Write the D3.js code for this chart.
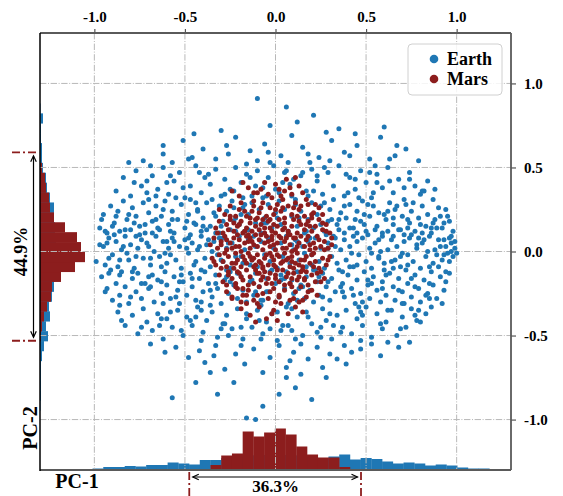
<!DOCTYPE html>
<html><head><meta charset="utf-8">
<script src="https://cdn.jsdelivr.net/npm/d3@7"></script>
<style>body{margin:0;background:#fff}svg{display:block}</style>
</head><body><svg id="c" width="563" height="496"></svg>
<script>
const xTicks=[-1.0,-0.5,0.0,0.5,1.0];
const yTicks=[1.0,0.5,0.0,-0.5,-1.0];
const seriesNames=["Earth","Mars"];
const axisLabels=["PC-1","PC-2"];

const earthPoints=[
[-0.10,0.91],[0.12,0.77],[-0.03,0.75],[-0.30,0.72],[0.60,0.74],[0.21,0.81],[0.06,0.86],[-0.45,0.70],[0.35,0.73],
[-0.73,0.54],[-0.62,0.58],[-0.51,0.66],[-0.40,0.61],[-0.33,0.55],[-0.22,0.68],[-0.14,0.60],[-0.06,0.64],[0.03,0.57],[0.09,0.69],[0.15,0.62],[0.24,0.56],[0.31,0.66],[0.38,0.59],[0.45,0.63],[0.52,0.55],[0.58,0.68],[0.66,0.57],[0.72,0.61],[-0.81,0.53],[-0.57,0.53],[-0.27,0.63],[0.19,0.53],[0.44,0.70],[-0.10,0.54],[0.28,0.71],[0.79,0.54],[-0.46,0.56],
[-0.88,0.36],[-0.84,0.44],[-0.80,0.33],[-0.77,0.48],[-0.74,0.39],[-0.70,0.31],[-0.68,0.45],[-0.65,0.37],[-0.62,0.50],[-0.59,0.34],[-0.56,0.42],[-0.53,0.47],[-0.50,0.32],[-0.47,0.39],[-0.44,0.51],[-0.41,0.35],[-0.39,0.44],[-0.36,0.40],[-0.33,0.49],[-0.30,0.33],[-0.28,0.43],[-0.25,0.37],[-0.22,0.50],[-0.19,0.41],[-0.16,0.46],[-0.13,0.33],[-0.10,0.48],[-0.07,0.38],[-0.04,0.44],[-0.01,0.51],[0.02,0.35],[0.05,0.47],[0.08,0.40],[0.11,0.31],[0.14,0.45],[0.17,0.36],[0.20,0.49],[0.23,0.42],[0.26,0.34],[0.29,0.47],[0.32,0.39],[0.35,0.51],[0.38,0.33],[0.41,0.44],[0.44,0.37],[0.47,0.48],[0.50,0.41],[0.53,0.32],[0.56,0.46],[0.59,0.38],[0.62,0.50],[0.65,0.35],[0.68,0.43],[0.71,0.31],[0.74,0.47],[0.77,0.39],[0.80,0.34],[0.84,0.42],[0.88,0.37],[-0.60,0.41],[-0.42,0.47],[-0.18,0.32],[0.10,0.43],[0.27,0.50],[0.46,0.32],[0.63,0.42],[-0.71,0.42],[0.39,0.46],[-0.05,0.33],[0.55,0.51],
[-0.97,0.14],[-0.95,0.22],[-0.93,0.11],[-0.91,0.27],[-0.89,0.17],[-0.87,0.24],[-0.86,0.12],[-0.84,0.30],[-0.82,0.19],[-0.80,0.13],[-0.79,0.26],[-0.77,0.21],[-0.75,0.15],[-0.73,0.29],[-0.72,0.11],[-0.70,0.23],[-0.68,0.18],[-0.66,0.27],[-0.64,0.13],[-0.63,0.21],[-0.61,0.30],[-0.59,0.16],[-0.57,0.24],[-0.56,0.11],[-0.54,0.19],[-0.52,0.28],[-0.50,0.14],[-0.48,0.22],[-0.47,0.31],[-0.45,0.17],[-0.43,0.25],[-0.41,0.12],[-0.40,0.20],[-0.38,0.29],[-0.36,0.15],[-0.34,0.23],[-0.33,0.11],[-0.31,0.27],[-0.29,0.18],[-0.27,0.24],[-0.25,0.13],[-0.24,0.30],[-0.22,0.20],[-0.20,0.16],[-0.18,0.26],[-0.17,0.12],[-0.15,0.22],[-0.13,0.29],[-0.11,0.17],[-0.09,0.25],[-0.08,0.11],[-0.06,0.20],[-0.04,0.28],[-0.02,0.14],[0.00,0.23],[0.02,0.30],[0.03,0.16],[0.05,0.25],[0.07,0.12],[0.09,0.21],[0.11,0.28],[0.12,0.15],[0.14,0.24],[0.16,0.11],[0.18,0.19],[0.20,0.29],[0.21,0.14],[0.23,0.22],[0.25,0.27],[0.27,0.12],[0.29,0.18],[0.30,0.25],[0.32,0.31],[0.34,0.16],[0.36,0.23],[0.38,0.11],[0.39,0.20],[0.41,0.28],[0.43,0.14],[0.45,0.24],[0.47,0.18],[0.48,0.30],[0.50,0.12],[0.52,0.21],[0.54,0.27],[0.56,0.15],[0.57,0.23],[0.59,0.11],[0.61,0.19],[0.63,0.29],[0.65,0.16],[0.66,0.25],[0.68,0.13],[0.70,0.21],[0.72,0.28],[0.74,0.17],[0.75,0.24],[0.77,0.12],[0.79,0.20],[0.81,0.27],[0.83,0.15],[0.84,0.22],[0.86,0.11],[0.88,0.19],[0.90,0.26],[0.92,0.14],[0.94,0.25],[0.96,0.18],[0.98,0.12],[-0.90,0.15],[-0.62,0.25],[-0.44,0.16],[0.13,0.20],[0.44,0.19],[0.62,0.24],[0.80,0.16],[-0.23,0.26],[0.35,0.13],[0.71,0.10],
[-0.99,-0.06],[-0.97,0.04],[-0.95,0.03],[-0.94,-0.08],[-0.92,0.08],[-0.90,-0.02],[-0.88,0.06],[-0.87,-0.09],[-0.85,0.01],[-0.83,0.09],[-0.81,-0.05],[-0.80,0.04],[-0.78,-0.10],[-0.76,0.02],[-0.74,0.07],[-0.73,-0.04],[-0.71,0.05],[-0.69,-0.08],[-0.67,0.00],[-0.66,0.09],[-0.64,-0.03],[-0.62,0.06],[-0.60,-0.07],[-0.59,0.02],[-0.57,0.08],[-0.55,-0.05],[-0.53,0.03],[-0.52,-0.10],[-0.50,0.07],[-0.48,-0.01],[-0.46,0.05],[-0.45,-0.08],[-0.43,0.01],[-0.41,0.09],[-0.39,-0.04],[-0.38,0.04],[-0.36,-0.09],[-0.34,0.06],[-0.32,-0.02],[-0.31,0.08],[-0.29,-0.06],[-0.27,0.02],[-0.25,-0.10],[-0.24,0.05],[-0.22,-0.03],[-0.20,0.09],[-0.18,-0.07],[-0.17,0.01],[-0.15,0.07],[-0.13,-0.05],[-0.11,0.03],[-0.10,-0.09],[-0.08,0.06],[-0.06,-0.02],[-0.04,0.08],[-0.03,-0.06],[-0.01,0.02],[0.01,-0.10],[0.03,0.05],[0.04,-0.03],[0.06,0.09],[0.08,-0.07],[0.10,0.01],[0.11,0.07],[0.13,-0.05],[0.15,0.03],[0.17,-0.09],[0.18,0.06],[0.20,-0.02],[0.22,0.08],[0.24,-0.06],[0.25,0.02],[0.27,-0.10],[0.29,0.05],[0.31,-0.03],[0.32,0.09],[0.34,-0.07],[0.36,0.01],[0.38,0.07],[0.39,-0.05],[0.41,0.03],[0.43,-0.09],[0.45,0.06],[0.46,-0.02],[0.48,0.08],[0.50,-0.06],[0.52,0.02],[0.53,-0.10],[0.55,0.05],[0.57,-0.03],[0.59,0.09],[0.60,-0.07],[0.62,0.01],[0.64,0.07],[0.66,-0.05],[0.67,0.03],[0.69,-0.09],[0.71,0.06],[0.73,-0.02],[0.74,0.08],[0.76,-0.06],[0.78,0.02],[0.80,-0.10],[0.81,0.05],[0.83,-0.03],[0.85,0.09],[0.87,-0.07],[0.88,0.01],[0.90,0.07],[0.92,-0.05],[0.94,0.03],[0.95,-0.01],[0.97,0.05],[0.98,-0.03],[0.99,0.02],[1.00,-0.01],[0.97,0.00],[0.99,0.06],[-0.82,-0.01],[-0.58,-0.02],[-0.35,0.00],[0.16,-0.01],[0.42,-0.01],[0.58,0.00],[0.70,-0.01],[0.84,0.00],[0.93,0.07],[-0.70,0.03],[-0.47,0.10],[0.28,0.10],[0.51,0.10],[0.65,-0.10],[-0.89,0.10],[0.75,0.10],
[-0.96,-0.15],[-0.94,-0.24],[-0.92,-0.13],[-0.90,-0.29],[-0.88,-0.19],[-0.86,-0.26],[-0.85,-0.12],[-0.83,-0.21],[-0.81,-0.31],[-0.79,-0.16],[-0.77,-0.24],[-0.76,-0.13],[-0.74,-0.28],[-0.72,-0.19],[-0.70,-0.22],[-0.68,-0.14],[-0.67,-0.30],[-0.65,-0.17],[-0.63,-0.25],[-0.61,-0.12],[-0.60,-0.20],[-0.58,-0.28],[-0.56,-0.15],[-0.54,-0.23],[-0.53,-0.31],[-0.51,-0.18],[-0.49,-0.26],[-0.47,-0.13],[-0.46,-0.21],[-0.44,-0.29],[-0.42,-0.16],[-0.40,-0.24],[-0.39,-0.12],[-0.37,-0.19],[-0.35,-0.27],[-0.33,-0.14],[-0.32,-0.22],[-0.30,-0.31],[-0.28,-0.17],[-0.26,-0.25],[-0.25,-0.12],[-0.23,-0.20],[-0.21,-0.28],[-0.19,-0.15],[-0.18,-0.23],[-0.16,-0.30],[-0.14,-0.18],[-0.12,-0.26],[-0.11,-0.13],[-0.09,-0.21],[-0.07,-0.29],[-0.05,-0.16],[-0.04,-0.24],[-0.02,-0.11],[0.00,-0.19],[0.02,-0.27],[0.03,-0.14],[0.05,-0.22],[0.07,-0.31],[0.09,-0.17],[0.10,-0.25],[0.12,-0.12],[0.14,-0.20],[0.16,-0.28],[0.17,-0.15],[0.19,-0.23],[0.21,-0.30],[0.23,-0.18],[0.24,-0.26],[0.26,-0.13],[0.28,-0.21],[0.30,-0.29],[0.31,-0.16],[0.33,-0.24],[0.35,-0.11],[0.37,-0.19],[0.38,-0.27],[0.40,-0.14],[0.42,-0.22],[0.44,-0.31],[0.45,-0.17],[0.47,-0.25],[0.49,-0.12],[0.51,-0.20],[0.52,-0.28],[0.54,-0.15],[0.56,-0.23],[0.58,-0.30],[0.59,-0.18],[0.61,-0.26],[0.63,-0.13],[0.65,-0.21],[0.66,-0.29],[0.68,-0.16],[0.70,-0.24],[0.72,-0.11],[0.73,-0.19],[0.75,-0.27],[0.77,-0.14],[0.79,-0.22],[0.80,-0.30],[0.82,-0.17],[0.84,-0.25],[0.86,-0.12],[0.87,-0.20],[0.89,-0.28],[0.91,-0.15],[0.93,-0.23],[0.94,-0.18],[0.96,-0.13],[-0.62,-0.31],[-0.41,-0.30],[-0.08,-0.32],[0.22,-0.11],[0.48,-0.30],[0.71,-0.31],[-0.86,-0.32],[0.06,-0.12],[-0.27,-0.11],[0.60,-0.11],
[-0.87,-0.36],[-0.83,-0.44],[-0.79,-0.38],[-0.76,-0.49],[-0.73,-0.34],[-0.71,-0.42],[-0.68,-0.47],[-0.65,-0.37],[-0.62,-0.52],[-0.60,-0.40],[-0.57,-0.45],[-0.54,-0.35],[-0.51,-0.50],[-0.49,-0.39],[-0.46,-0.44],[-0.43,-0.33],[-0.40,-0.48],[-0.38,-0.41],[-0.35,-0.36],[-0.32,-0.51],[-0.29,-0.43],[-0.27,-0.38],[-0.24,-0.46],[-0.21,-0.34],[-0.18,-0.52],[-0.16,-0.40],[-0.13,-0.45],[-0.10,-0.35],[-0.07,-0.49],[-0.05,-0.42],[-0.02,-0.37],[0.01,-0.53],[0.04,-0.44],[0.06,-0.33],[0.09,-0.47],[0.12,-0.39],[0.15,-0.50],[0.17,-0.36],[0.20,-0.43],[0.23,-0.48],[0.26,-0.34],[0.28,-0.41],[0.31,-0.52],[0.34,-0.38],[0.37,-0.45],[0.39,-0.35],[0.42,-0.49],[0.45,-0.40],[0.48,-0.44],[0.50,-0.33],[0.53,-0.51],[0.56,-0.37],[0.59,-0.46],[0.61,-0.42],[0.64,-0.35],[0.67,-0.50],[0.70,-0.39],[0.72,-0.45],[0.75,-0.34],[0.78,-0.41],[0.80,-0.42],[0.83,-0.37],[0.86,-0.33],[-0.64,-0.44],[-0.26,-0.50],[0.11,-0.52],[0.47,-0.36],[-0.44,-0.39],[0.25,-0.45],
[-0.69,-0.55],[-0.61,-0.60],[-0.55,-0.57],[-0.48,-0.63],[-0.42,-0.59],[-0.39,-0.66],[-0.33,-0.56],[-0.28,-0.70],[-0.22,-0.61],[-0.17,-0.67],[-0.12,-0.58],[-0.07,-0.72],[-0.03,-0.63],[0.02,-0.56],[0.06,-0.69],[0.10,-0.60],[0.14,-0.73],[0.18,-0.64],[0.23,-0.57],[0.26,-0.69],[0.30,-0.61],[0.34,-0.64],[0.38,-0.56],[0.42,-0.60],[0.47,-0.58],[0.53,-0.55],[0.58,-0.62],[0.62,-0.54],[0.68,-0.57],[0.74,-0.54],
[-0.57,-0.87],[-0.36,-0.72],[-0.32,-0.85],[-0.23,-0.78],[-0.16,-0.99],[-0.11,-1.00],[-0.07,-0.92],[0.02,-0.85],[0.06,-0.75],[0.11,-0.81],[0.28,-0.75],[0.20,-0.88],[-0.44,-0.78],
[-0.93,0.05],[-0.86,-0.14],[-0.81,0.22],[-0.77,-0.03],[-0.72,0.16],[-0.69,-0.21],[-0.66,0.33],[-0.63,-0.09],[-0.58,0.12],[-0.55,-0.27],[-0.51,0.38],[-0.49,0.02],[-0.46,-0.16],[-0.43,0.24],[-0.41,-0.35],[-0.37,0.07],[-0.35,0.31],[-0.33,-0.19],[-0.30,0.15],[-0.28,-0.43],[-0.26,0.05],[-0.23,0.36],[-0.21,-0.13],[-0.19,0.22],[-0.16,-0.37],[-0.14,0.44],[-0.12,0.09],[-0.09,-0.41],[-0.07,0.32],[-0.05,-0.24],[-0.03,0.53],[0.01,-0.36],[0.04,0.41],[0.07,-0.44],[0.09,0.33],[0.12,-0.29],[0.15,0.47],[0.18,-0.39],[0.21,0.36],[0.24,-0.15],[0.27,0.29],[0.30,-0.37],[0.33,0.08],[0.36,-0.21],[0.38,0.27],[0.41,-0.09],[0.44,0.43],[0.46,-0.33],[0.49,0.16],[0.51,-0.17],[0.54,0.35],[0.57,-0.04],[0.60,0.22],[0.62,-0.35],[0.65,0.09],[0.68,-0.23],[0.71,0.38],[0.73,-0.08],[0.76,0.29],[0.79,-0.35],[0.82,0.07],[0.85,-0.19],[0.87,0.31],[0.90,-0.09],[0.93,0.17],[0.96,-0.06],
[0.97,0.09],[0.94,-0.12],[0.91,0.21],[0.89,-0.02],[0.86,0.14],[0.83,-0.26],[0.81,0.36],[0.78,0.04],[0.75,-0.16],[0.73,0.19],[0.70,-0.31],[0.67,0.27],[0.64,-0.06],[0.62,0.12],[0.59,-0.22],[0.56,0.41],[0.53,-0.01],[0.51,0.28],[0.48,-0.38],[0.45,0.11],[0.43,-0.26],[0.40,0.35],[0.37,-0.12],[0.35,0.19],[0.32,-0.44],[0.29,0.02],[0.26,-0.27],[0.23,0.45],[0.20,-0.08],[0.18,0.33],[0.15,-0.21],[0.12,0.06],[0.09,-0.34],[0.06,0.48],[0.03,-0.17],[0.00,0.37],[-0.03,-0.46],[-0.05,0.17],[-0.08,-0.29],[-0.11,0.39],[-0.14,-0.08],[-0.17,0.28],[-0.19,-0.45],[-0.22,0.12],[-0.25,-0.18],[-0.28,0.34],[-0.30,-0.05],[-0.33,0.21],[-0.36,-0.32],[-0.38,0.13],[-0.41,-0.11],[-0.44,0.29],[-0.47,-0.41],[-0.49,0.18],[-0.52,-0.14],[-0.55,0.32],[-0.58,-0.36],[-0.60,0.06],[-0.63,-0.18],[-0.66,0.19],[-0.69,-0.04],[-0.71,0.35],[-0.74,-0.19],[-0.77,0.09],[-0.80,-0.27],[-0.83,0.13],[-0.86,-0.05],[-0.88,0.21],[-0.91,-0.11],[-0.94,0.12],
[-0.84,0.03],[-0.79,-0.12],[-0.75,0.10],[-0.70,-0.15],[-0.65,0.14],[-0.61,-0.01],[-0.57,0.19],[-0.53,-0.18],[-0.48,0.08],[-0.44,-0.06],[-0.40,0.15],[-0.36,-0.23],[-0.31,0.11],[-0.27,-0.15],[-0.23,0.18],[-0.19,-0.03],[-0.15,0.13],[-0.11,-0.24],[-0.07,0.17],[-0.03,-0.12],[0.01,0.20],[0.05,-0.16],[0.09,0.04],[0.13,-0.22],[0.17,0.12],[0.21,-0.11],[0.25,0.16],[0.29,-0.18],[0.33,0.03],[0.37,-0.24],[0.41,0.14],[0.45,-0.08],[0.49,0.22],[0.53,-0.19],[0.57,0.07],[0.61,-0.14],[0.65,0.20],[0.69,-0.03],[0.73,0.14],[0.77,-0.21],[0.81,0.11],[0.85,-0.09],[0.89,0.14],[0.93,-0.02],[0.96,0.08],[0.91,0.03],[0.87,0.17],[0.79,0.08],[0.69,0.13],[0.55,0.13],[0.43,0.09],[0.31,0.19],[0.19,0.08],[-0.13,-0.17],[-0.29,0.08],[-0.42,0.03],[-0.56,0.06],[-0.68,0.11],[-0.78,0.17],[-0.92,-0.04],
[-0.78,0.41],[-0.69,0.51],[-0.58,0.45],[-0.48,0.55],[-0.37,0.46],[-0.26,0.58],[-0.16,0.52],[-0.04,0.59],[0.07,0.53],[0.18,0.58],[0.30,0.54],[0.41,0.57],[0.52,0.47],[0.63,0.55],[0.74,0.43],[0.82,0.36],[-0.85,-0.41],[-0.74,-0.45],[-0.63,-0.40],[-0.52,-0.47],[-0.41,-0.53],[-0.30,-0.46],[-0.19,-0.56],[-0.08,-0.52],[0.03,-0.47],[0.14,-0.55],[0.25,-0.51],[0.36,-0.48],[0.47,-0.53],[0.58,-0.43],[0.69,-0.46],[0.77,-0.38],[0.85,-0.28],[-0.93,-0.22],[-0.96,0.19],[0.95,0.21],[0.92,-0.31],[-0.62,0.63],[0.67,0.63],[-0.34,-0.62],[0.39,-0.67],[0.08,-0.65]
];

const marsPoints=[
[-0.20,0.33],[-0.15,0.38],[-0.10,0.35],[-0.06,0.41],[-0.02,0.32],[0.02,0.37],[0.06,0.43],[0.09,0.34],[0.13,0.39],[0.17,0.31],[-0.24,0.36],[-0.12,0.30],[0.00,0.40],[0.04,0.31],[-0.08,0.37],[0.11,0.44],[-0.18,0.41],[0.15,0.35],[-0.04,0.34],[0.08,0.38],
[-0.28,0.22],[-0.25,0.27],[-0.22,0.21],[-0.19,0.29],[-0.17,0.24],[-0.14,0.20],[-0.12,0.27],[-0.09,0.23],[-0.07,0.29],[-0.05,0.21],[-0.03,0.26],[-0.01,0.22],[0.01,0.28],[0.03,0.24],[0.05,0.20],[0.07,0.27],[0.09,0.22],[0.11,0.29],[0.13,0.25],[0.16,0.21],[0.18,0.28],[0.21,0.23],[0.24,0.26],[-0.31,0.25],[-0.20,0.25],[-0.10,0.20],[0.00,0.25],[0.10,0.26],[0.20,0.20],[0.26,0.22],
[-0.33,0.14],[-0.31,0.18],[-0.29,0.11],[-0.27,0.16],[-0.25,0.19],[-0.23,0.12],[-0.21,0.15],[-0.19,0.18],[-0.18,0.11],[-0.16,0.14],[-0.14,0.17],[-0.13,0.12],[-0.11,0.19],[-0.09,0.13],[-0.08,0.16],[-0.06,0.11],[-0.04,0.18],[-0.03,0.14],[-0.01,0.16],[0.00,0.11],[0.02,0.19],[0.04,0.13],[0.05,0.17],[0.07,0.12],[0.09,0.15],[0.10,0.19],[0.12,0.11],[0.14,0.16],[0.16,0.13],[0.18,0.18],[0.20,0.12],[0.22,0.15],[0.24,0.19],[0.26,0.13],[0.28,0.16],[0.30,0.11],[-0.26,0.13],[-0.15,0.10],[-0.07,0.19],[0.01,0.15],[0.08,0.10],[0.13,0.18],[-0.20,0.16],[-0.02,0.12],[0.19,0.15],
[-0.36,0.04],[-0.34,0.08],[-0.32,0.02],[-0.30,0.06],[-0.28,0.09],[-0.27,0.01],[-0.25,0.05],[-0.23,0.08],[-0.22,0.03],[-0.20,0.07],[-0.19,0.00],[-0.17,0.05],[-0.16,0.09],[-0.14,0.02],[-0.13,0.06],[-0.11,0.10],[-0.10,0.03],[-0.09,0.07],[-0.07,0.01],[-0.06,0.05],[-0.05,0.09],[-0.03,0.03],[-0.02,0.07],[0.00,0.01],[0.01,0.05],[0.02,0.09],[0.04,0.02],[0.05,0.06],[0.07,0.10],[0.08,0.04],[0.10,0.08],[0.11,0.01],[0.13,0.05],[0.14,0.09],[0.16,0.03],[0.17,0.07],[0.19,0.01],[0.21,0.05],[0.23,0.09],[0.25,0.03],[0.27,0.06],[0.29,0.02],[0.31,0.08],[-0.24,0.02],[-0.15,0.06],[-0.08,0.10],[-0.01,0.04],[0.06,0.08],[0.12,0.03],[0.18,0.09],[-0.21,0.10],[-0.12,0.04],[0.03,0.08],[0.09,0.00],[0.22,0.02],
[-0.35,-0.04],[-0.33,-0.08],[-0.31,-0.02],[-0.29,-0.06],[-0.27,-0.09],[-0.26,-0.03],[-0.24,-0.07],[-0.22,-0.01],[-0.21,-0.05],[-0.19,-0.09],[-0.18,-0.03],[-0.16,-0.07],[-0.15,-0.01],[-0.13,-0.05],[-0.12,-0.09],[-0.10,-0.02],[-0.09,-0.06],[-0.07,-0.10],[-0.06,-0.04],[-0.04,-0.08],[-0.03,-0.01],[-0.01,-0.05],[0.00,-0.09],[0.02,-0.03],[0.03,-0.07],[0.05,-0.01],[0.06,-0.05],[0.08,-0.09],[0.09,-0.03],[0.11,-0.07],[0.12,-0.01],[0.14,-0.05],[0.15,-0.09],[0.17,-0.03],[0.19,-0.07],[0.20,-0.02],[0.22,-0.06],[0.24,-0.10],[0.26,-0.04],[0.28,-0.08],[0.30,-0.03],[-0.23,-0.10],[-0.14,-0.03],[-0.08,-0.07],[-0.02,-0.03],[0.04,-0.06],[0.10,-0.10],[0.16,-0.05],[-0.30,-0.10],[-0.17,-0.05],[-0.05,-0.02],[0.07,-0.04],[0.13,-0.08],[0.21,-0.09],[-0.11,-0.08],
[-0.31,-0.14],[-0.29,-0.18],[-0.26,-0.12],[-0.24,-0.16],[-0.22,-0.19],[-0.20,-0.13],[-0.18,-0.17],[-0.16,-0.11],[-0.14,-0.15],[-0.12,-0.19],[-0.10,-0.13],[-0.08,-0.17],[-0.06,-0.12],[-0.04,-0.16],[-0.02,-0.19],[0.00,-0.14],[0.02,-0.18],[0.04,-0.11],[0.06,-0.15],[0.08,-0.19],[0.10,-0.13],[0.12,-0.17],[0.14,-0.12],[0.16,-0.16],[0.18,-0.20],[0.20,-0.14],[0.22,-0.18],[0.25,-0.12],[0.27,-0.16],[-0.27,-0.20],[-0.19,-0.15],[-0.11,-0.11],[-0.03,-0.13],[0.05,-0.20],[0.13,-0.15],[-0.15,-0.20],[-0.07,-0.15],[0.09,-0.16],[0.01,-0.11],[0.17,-0.12],
[-0.27,-0.24],[-0.24,-0.28],[-0.21,-0.22],[-0.18,-0.26],[-0.15,-0.23],[-0.12,-0.29],[-0.09,-0.21],[-0.07,-0.25],[-0.04,-0.28],[-0.01,-0.22],[0.02,-0.26],[0.05,-0.23],[0.08,-0.29],[0.11,-0.24],[0.14,-0.21],[0.17,-0.27],[0.20,-0.23],[0.23,-0.26],[-0.19,-0.30],[-0.10,-0.26],[0.00,-0.30],[0.09,-0.21],[-0.03,-0.24],[0.15,-0.29],[-0.22,-0.21],
[-0.19,-0.34],[-0.14,-0.38],[-0.09,-0.33],[-0.05,-0.40],[-0.01,-0.35],[0.03,-0.31],[0.07,-0.37],[0.11,-0.33],[0.15,-0.36],[-0.11,-0.42],[0.01,-0.41],[-0.16,-0.31],
[-0.27,0.07],[-0.21,-0.12],[-0.16,0.21],[-0.12,-0.04],[-0.08,0.26],[-0.05,-0.19],[-0.02,0.09],[0.02,-0.27],[0.05,0.14],[0.09,-0.06],[0.12,0.21],[0.16,-0.17],[0.19,0.04],[0.23,-0.13],[0.26,0.17],[0.29,-0.05],[0.24,0.07],[0.18,-0.24],[0.14,0.27],[0.07,-0.13],[0.03,0.33],[-0.01,-0.08],[-0.06,0.14],[-0.10,-0.31],[-0.14,0.08],[-0.18,-0.22],[-0.23,0.17],[-0.28,-0.01],[-0.32,0.11],[-0.26,-0.14],[-0.20,0.03],[-0.16,-0.26],[-0.11,0.15],[-0.07,-0.09],[-0.03,0.19],[0.01,-0.02],[0.04,0.26],[0.08,-0.19],[0.11,0.08],[0.15,-0.11],[0.20,0.22],[0.25,-0.18],[0.28,0.12],[0.21,-0.01],[0.17,0.16],[0.13,-0.30],[0.06,0.02],[0.00,-0.16],[-0.04,0.06],[-0.09,-0.13],[-0.13,0.24],[-0.17,0.12],[-0.22,-0.07],[-0.25,0.21],[-0.30,0.04],[-0.34,-0.06],[0.27,0.01],[0.31,0.04],[-0.12,0.35],[0.05,0.36],[-0.02,-0.37],[0.10,-0.28],[-0.24,-0.27],[0.22,0.28]
];

// PC-1 histograms (bin start, bin width, heights)
const xBinStart=-1.01, xBinWidth=0.0592;
const earthXHist=[1.5,3,3,4,3.5,5,5,7.5,6.5,5.5,10,10,12,13,14,15,15,15,15,14,13,12,13.5,15.5,10.5,12,11,8.5,6.5,7.5,6.5,4.5,5.5,4.5,2.5,1.5,1.5];
const marsXFirstBin=10;
const marsXHist=[1,5,14.5,16.5,38.5,33.5,37.5,41.5,35.5,23.5,15.5,12.5,12.5,3,1];
// PC-2 histograms
const yBinStart=-1.004, yBinWidth=0.0589;
const earthYHist=[0,0.5,1,1,1,1,2,4,8,6,10,9,12,14,15,15,16,16,15,15,14,14,10,7,6,3,2,2,1,1,3,0.5,0];
const marsYFirstBin=8;
const marsYHist=[1,2,4,7,11,12,21,35,45,41,37,25,14,10,9,6,5,2];
// Mars spread annotations
const spanX=[-0.476,0.472], spanXLabel="36.3%";
const spanY=[-0.531,0.59], spanYLabel="44.9%";

const colors={Earth:"#1f77b4",Mars:"#8c1d1d"};
const FONT="'Liberation Serif','Times New Roman',serif";

const svg=d3.select("#c");
const L=40,R=511,T=33,B=470;
const x=d3.scaleLinear().domain([-1.3,1.3]).range([L,R]);
const y=d3.scaleLinear().domain([-1.3,1.3]).range([B,T]);
const hLen=d3.scaleLinear().domain([0,50]).range([0,50]);

svg.append("defs").append("clipPath").attr("id","clip")
  .append("rect").attr("x",L).attr("y",T).attr("width",R-L).attr("height",B-T);
const plot=svg.append("g").attr("clip-path","url(#clip)");

function xHist(arr, first, color){
  plot.append("g").selectAll("rect").data(arr).join("rect")
    .attr("x",(d,i)=>x(xBinStart+(first+i)*xBinWidth))
    .attr("width",(d,i)=>x(xBinStart+(first+i+1)*xBinWidth)-x(xBinStart+(first+i)*xBinWidth)+0.3)
    .attr("y",d=>B-hLen(d)).attr("height",d=>hLen(d)).attr("fill",color);
}
function yHist(arr, first, color){
  plot.append("g").selectAll("rect").data(arr).join("rect")
    .attr("y",(d,i)=>y(yBinStart+(first+i+1)*yBinWidth))
    .attr("height",(d,i)=>y(yBinStart+(first+i)*yBinWidth)-y(yBinStart+(first+i+1)*yBinWidth)+0.3)
    .attr("x",L).attr("width",d=>hLen(d)).attr("fill",color);
}
xHist(earthXHist,0,colors.Earth);
xHist(marsXHist,marsXFirstBin,colors.Mars);
yHist(earthYHist,0,colors.Earth);
yHist(marsYHist,marsYFirstBin,colors.Mars);

const grid=plot.append("g").attr("stroke","#b8b8b8").attr("stroke-width",1).attr("stroke-dasharray","6.4,1.6,1,1.6").attr("fill","none");
grid.selectAll(".gx").data(xTicks).join("line").attr("x1",d=>x(d)).attr("x2",d=>x(d)).attr("y1",T).attr("y2",B);
grid.selectAll(".gy").data(yTicks).join("line").attr("y1",d=>y(d)).attr("y2",d=>y(d)).attr("x1",L).attr("x2",R);

plot.append("g").selectAll("circle").data(earthPoints).join("circle")
  .attr("cx",d=>x(d[0])).attr("cy",d=>y(d[1])).attr("r",2.5).attr("fill",colors.Earth);
plot.append("g").selectAll("circle").data(marsPoints).join("circle")
  .attr("cx",d=>x(d[0])).attr("cy",d=>y(d[1])).attr("r",2.5).attr("fill",colors.Mars);

const fmt=d=>d3.format(".1f")(d).replace("\u2212","-");
const ax=svg.append("g").attr("transform",`translate(0,${T})`)
  .call(d3.axisTop(x).tickValues(xTicks).tickFormat(fmt).tickSize(4).tickPadding(7));
const ay=svg.append("g").attr("transform",`translate(${R},0)`)
  .call(d3.axisRight(y).tickValues(yTicks).tickFormat(fmt).tickSize(5).tickPadding(8));
[ax,ay].forEach(g=>{
  g.select(".domain").remove();
  g.selectAll(".tick line").attr("stroke","#555").attr("stroke-width",1.2);
  g.selectAll(".tick text").attr("fill","#000").style("font-family",FONT).style("font-weight","bold").style("font-size","15px");
});

svg.append("line").attr("x1",L).attr("x2",R).attr("y1",T).attr("y2",T).attr("stroke","#5a5a5a").attr("stroke-width",1.8);
svg.append("line").attr("x1",R).attr("x2",R).attr("y1",T).attr("y2",B).attr("stroke","#5a5a5a").attr("stroke-width",1.8);
svg.append("line").attr("x1",L).attr("x2",R).attr("y1",B).attr("y2",B).attr("stroke","#5a5a5a").attr("stroke-width",1.8);
svg.append("line").attr("x1",L).attr("x2",L).attr("y1",T).attr("y2",B+0.9).attr("stroke","#000").attr("stroke-width",1.5);

const lg=svg.append("g");
lg.append("rect").attr("x",408).attr("y",44).attr("width",94).attr("height",51).attr("rx",4)
  .attr("fill","#fff").attr("fill-opacity",0.85).attr("stroke","#d0d0d0").attr("stroke-width",1);
seriesNames.forEach((n,i)=>{
  lg.append("circle").attr("cx",434).attr("cy",59+i*20).attr("r",4.3).attr("fill",colors[n]);
  lg.append("text").attr("x",447).attr("y",65+i*20).text(n)
    .style("font-family",FONT).style("font-weight","bold").style("font-size","18px");
});

const ann=svg.append("g");
const red=colors.Mars;
spanY.forEach(v=>{
  ann.append("line").attr("x1",12).attr("x2",38).attr("y1",y(v)).attr("y2",y(v))
    .attr("stroke",red).attr("stroke-width",1.8).attr("stroke-dasharray","8,3,2,3");
});
spanX.forEach(v=>{
  ann.append("line").attr("x1",x(v)).attr("x2",x(v)).attr("y1",472).attr("y2",496)
    .attr("stroke",red).attr("stroke-width",1.8).attr("stroke-dasharray","8,3,2,3");
});
function arrow(x1,y1,x2,y2){
  ann.append("line").attr("x1",x1).attr("y1",y1).attr("x2",x2).attr("y2",y2).attr("stroke","#000").attr("stroke-width",1.2);
  const a=Math.atan2(y2-y1,x2-x1), hl=6, hw=2.8;
  [[x1,y1,a+Math.PI],[x2,y2,a]].forEach(([px,py,ang])=>{
    const bx=px-hl*Math.cos(ang), by=py-hl*Math.sin(ang);
    const nx=-Math.sin(ang)*hw, ny=Math.cos(ang)*hw;
    ann.append("path").attr("d",`M${bx+nx},${by+ny}L${px},${py}L${bx-nx},${by-ny}`)
      .attr("fill","none").attr("stroke","#000").attr("stroke-width",1.2);
  });
}
arrow(33.5,y(spanY[1])+3.5,33.5,y(spanY[0])-3.5);
arrow(x(spanX[0])+3.5,477,x(spanX[1])-3.5,477);
ann.append("text").attr("transform",`translate(27,${y(0)}) rotate(-90)`).attr("text-anchor","middle").text(spanYLabel)
  .style("font-family",FONT).style("font-weight","bold").style("font-size","18px");
ann.append("text").attr("x",x(0)).attr("y",492).attr("text-anchor","middle").text(spanXLabel)
  .style("font-family",FONT).style("font-weight","bold").style("font-size","17px");

svg.append("text").attr("x",77).attr("y",488).attr("text-anchor","middle").text(axisLabels[0])
  .style("font-family",FONT).style("font-weight","bold").style("font-size","20px");
svg.append("text").attr("transform","translate(37,428) rotate(-90)").attr("text-anchor","middle").text(axisLabels[1])
  .style("font-family",FONT).style("font-weight","bold").style("font-size","20px");
</script></body></html>
